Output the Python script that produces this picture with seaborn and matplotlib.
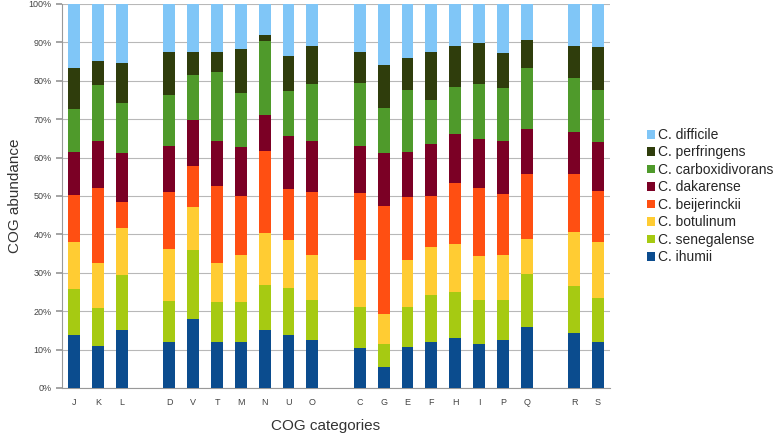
import pandas as pd
import matplotlib
matplotlib.use('Agg')
import matplotlib.pyplot as plt
import seaborn as sns
from matplotlib.patches import Patch
from matplotlib.ticker import PercentFormatter, FixedLocator

sns.set_theme(style="white")
plt.rcParams['font.family'] = ['Liberation Sans', 'DejaVu Sans']

# COG categories, blank slots keep the gaps between groups
slots = ['J', 'K', 'L', ' ', 'D', 'V', 'T', 'M', 'N', 'U', 'O', '  ',
         'C', 'G', 'E', 'F', 'H', 'I', 'P', 'Q', '   ', 'R', 'S']
categories = [s for s in slots if s.strip()]

# share (%) of each species per category, bottom to top
ihumii          = [13.7, 11.0, 15.2, 12.0, 18.0, 12.0, 12.0, 15.0, 13.9, 12.4, 10.3, 5.4, 10.6, 12.0, 13.0, 11.5, 12.4, 16.0, 14.3, 12.0]
senegalense     = [12.1, 9.8, 14.3, 10.7, 18.0, 10.5, 10.5, 11.9, 12.2, 10.6, 10.9, 6.0, 10.5, 12.2, 12.1, 11.3, 10.4, 13.6, 12.3, 11.3]
botulinum       = [12.2, 11.7, 12.2, 13.5, 11.0, 10.0, 12.0, 13.4, 12.3, 11.5, 12.1, 7.9, 12.2, 12.4, 12.3, 11.5, 11.7, 9.2, 14.0, 14.6]
beijerinckii    = [12.3, 19.6, 6.7, 14.9, 10.7, 20.1, 15.5, 21.5, 13.4, 16.6, 17.4, 28.0, 16.5, 13.4, 15.9, 17.8, 15.9, 17.0, 15.2, 13.4]
dakarense       = [11.2, 12.1, 12.7, 12.0, 12.1, 11.6, 12.8, 9.4, 13.7, 13.3, 12.2, 13.8, 11.6, 13.6, 12.7, 12.8, 13.8, 11.6, 10.9, 12.7]
carboxidivorans = [11.1, 14.6, 13.0, 13.1, 11.6, 18.0, 13.9, 19.1, 11.8, 14.8, 16.6, 11.8, 16.2, 11.4, 12.3, 14.2, 14.0, 15.9, 13.9, 13.6]
perfringens     = [10.6, 6.4, 10.6, 11.2, 6.0, 5.2, 11.5, 1.5, 9.2, 9.8, 7.9, 11.1, 8.3, 12.5, 10.7, 10.6, 8.9, 7.2, 8.5, 11.3]
difficile       = [16.8, 14.8, 15.3, 12.6, 12.6, 12.6, 11.8, 8.2, 13.5, 11.0, 12.6, 16.0, 14.1, 12.5, 11.0, 10.3, 12.9, 9.5, 10.9, 11.1]

species = ['C. ihumii', 'C. senegalense', 'C. botulinum', 'C. beijerinckii',
           'C. dakarense', 'C. carboxidivorans', 'C. perfringens', 'C. difficile']
values = [ihumii, senegalense, botulinum, beijerinckii,
          dakarense, carboxidivorans, perfringens, difficile]
colors = ['#0B4C8E', '#A6CA12', '#FFCC33', '#FF4F12',
          '#7B0025', '#4F9A2B', '#2F3D0C', '#80C6F7']

df = pd.DataFrame(dict(zip(species, values)), index=categories)
cum = df.cumsum(axis=1)
cum = cum.div(cum.iloc[:, -1], axis=0) * 100

fig = plt.figure(figsize=(7.78, 4.33), dpi=100)
ax = fig.add_axes([0.08, 0.104, 0.704, 0.887])

# draw cumulative totals from the top layer down so each sits on the previous
for sp, col in zip(reversed(species), reversed(colors)):
    sns.barplot(x=cum.index, y=cum[sp].values, order=slots, color=col,
                width=0.5, saturation=1, ax=ax, linewidth=0, zorder=3)

ax.set_ylim(0, 100)
ax.set_xlim(-0.5, len(slots) - 0.5)
ax.yaxis.set_major_locator(FixedLocator(range(0, 101, 10)))
ax.yaxis.set_major_formatter(PercentFormatter(decimals=0))
ax.grid(axis='y', color='#b8b8b8', linewidth=0.8, zorder=0)
ax.set_xticks(range(len(slots)))
ax.set_xticklabels([s.strip() for s in slots])
ax.set_xticks([i + 0.5 for i in range(-1, len(slots))], minor=True)
ax.tick_params(axis='x', which='major', length=0, labelsize=6.5, labelcolor='#444444', pad=7)
ax.tick_params(axis='x', which='minor', length=4, color='#999999', direction='out')
ax.tick_params(axis='y', length=4, color='#999999', labelsize=6.5, labelcolor='#444444', left=True)

for side in ['top', 'right']:
    ax.spines[side].set_visible(False)
for side in ['left', 'bottom']:
    ax.spines[side].set_color('#999999')
    ax.spines[side].set_linewidth(0.8)

ax.set_xlabel('COG categories', fontsize=11, color='#333333')
ax.xaxis.set_label_coords(0.48, -0.08)
ax.set_ylabel('COG abundance', fontsize=11, color='#333333', va='center')
ax.yaxis.set_label_coords(-0.086, 0.5)

handles = [Patch(facecolor=c, edgecolor='none', label=s)
           for s, c in zip(reversed(species), reversed(colors))]
fig.legend(handles=handles, loc='center left', bbox_to_anchor=(0.824, 0.547),
           frameon=False, fontsize=10, handlelength=0.6, handleheight=0.6,
           handletextpad=0.2, labelspacing=0.25, borderaxespad=0)

plt.savefig('out.png', dpi=100)
